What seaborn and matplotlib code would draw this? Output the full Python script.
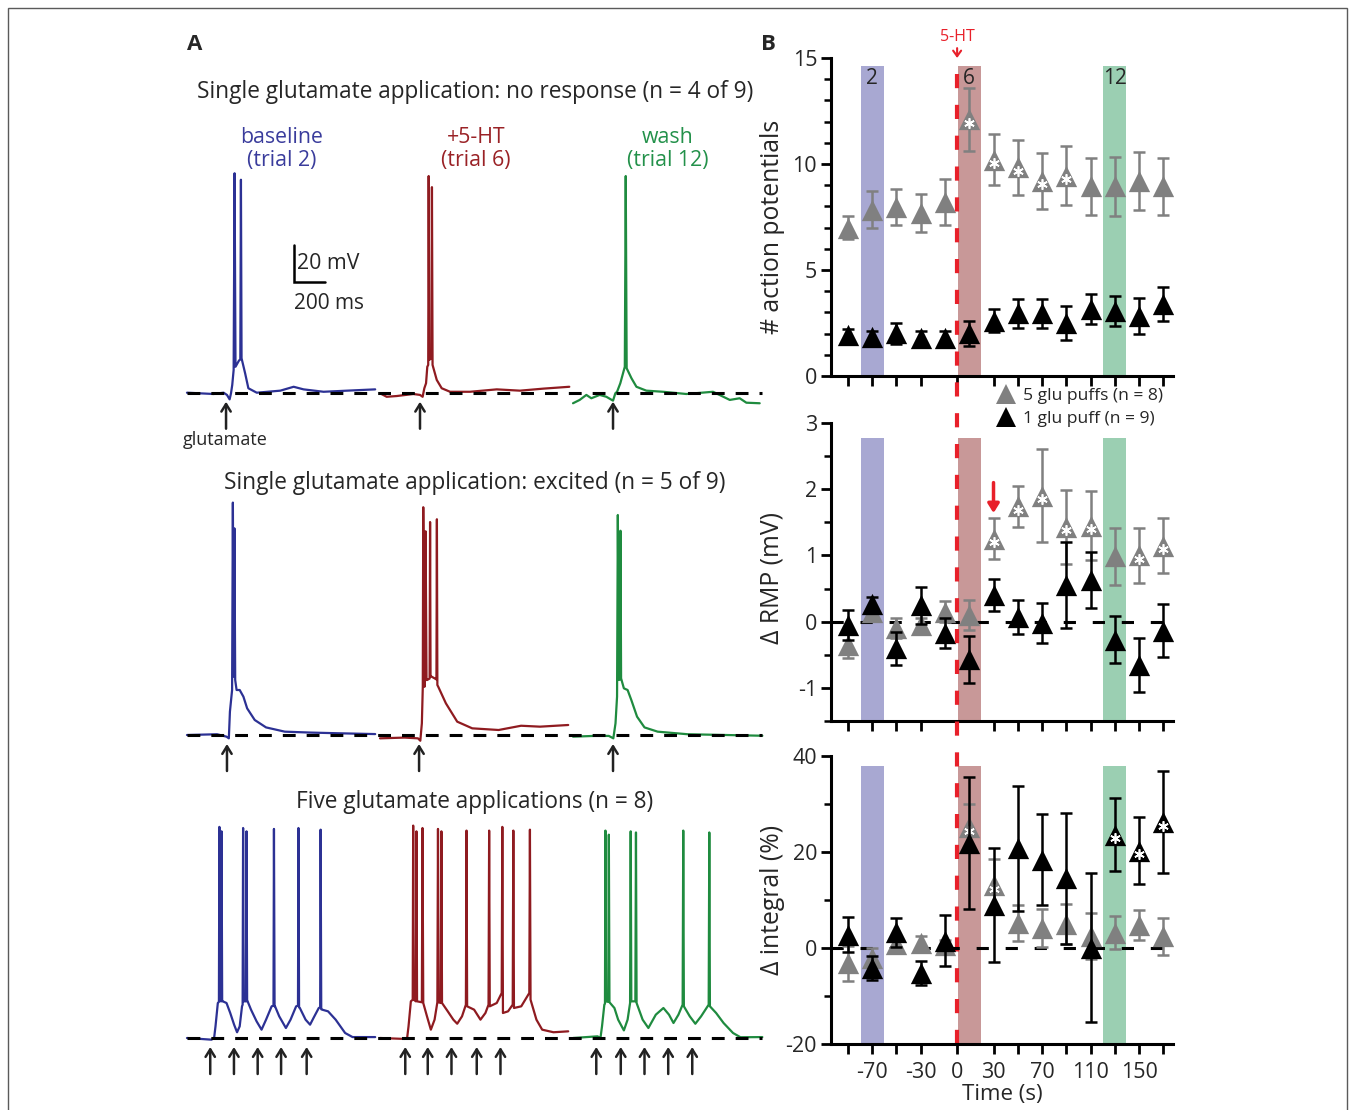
import numpy as np
import seaborn as sns
import matplotlib.pyplot as plt
from matplotlib import transforms
from matplotlib.lines import Line2D
from matplotlib.patches import Rectangle

# ---------------- panel B data ----------------
time_s = [-90, -70, -50, -30, -10, 10, 30, 50, 70, 90, 110, 130, 150, 170]

ap_five = [7.0, 7.85, 7.95, 7.7, 8.2, 12.1, 10.2, 9.85, 9.2, 9.45, 8.95, 8.95, 9.2, 8.95]
ap_five_err = [0.55, 0.88, 0.85, 0.9, 1.1, 1.5, 1.2, 1.3, 1.3, 1.4, 1.35, 1.4, 1.35, 1.35]
ap_one = [1.92, 1.84, 2.01, 1.81, 1.81, 2.01, 2.61, 2.95, 2.95, 2.52, 3.17, 3.07, 2.85, 3.4]
ap_one_err = [0.3, 0.3, 0.5, 0.3, 0.3, 0.6, 0.55, 0.7, 0.7, 0.8, 0.72, 0.72, 0.85, 0.8]

rmp_five = [-0.35, 0.15, -0.1, -0.05, 0.15, 0.1, 1.25, 1.74, 1.9, 1.43, 1.45, 0.99, 1.0, 1.15]
rmp_five_err = [0.2, 0.05, 0.15, 0.1, 0.16, 0.23, 0.31, 0.31, 0.7, 0.56, 0.52, 0.43, 0.41, 0.42]
rmp_one = [-0.05, 0.27, -0.4, 0.25, -0.17, -0.57, 0.4, 0.07, -0.02, 0.55, 0.63, -0.27, -0.65, -0.14]
rmp_one_err = [0.23, 0.1, 0.25, 0.28, 0.23, 0.36, 0.24, 0.26, 0.3, 0.65, 0.42, 0.36, 0.41, 0.4]

int_five = [-3.2, -2.0, 0.8, 1.0, 0.7, 25.2, 13.1, 5.2, 4.2, 5.0, 2.5, 3.2, 4.8, 2.4]
int_five_err = [3.6, 2.0, 1.0, 1.5, 1.0, 4.8, 5.4, 3.7, 4.0, 4.2, 4.7, 3.5, 3.2, 3.8]
int_one = [2.8, -4.1, 3.3, -5.3, 1.5, 21.9, 9.0, 20.8, 18.4, 14.5, 0.1, 23.6, 20.3, 26.2]
int_one_err = [3.7, 2.5, 3.0, 2.5, 5.3, 13.8, 11.9, 13.0, 9.5, 13.7, 15.6, 7.6, 7.0, 10.6]

# time points marked with an asterisk
ap_five_sig = [10, 30, 50, 70, 90]
rmp_five_sig = [30, 50, 70, 90, 110, 150, 170]
int_five_sig = [10, 30]
int_one_sig = [130, 150, 170]

band_trials = ['2', '6', '12']
band_times = [-70, 10, 130]

x_ticks = [-90, -70, -50, -30, 0, 30, 50, 70, 90, 110, 130, 150, 170]
x_ticklabels = ['', '-70', '', '-30', '0', '30', '', '70', '', '110', '', '150', '']

# ---------------- panel A data: traces as (ms, mV) vertices ----------------
r1_blue = [(0, 0), (172, -0.7), (236, 0), (258, -1.2), (275, -3.6), (284, -0.3), (292, 4.2),
           (301, 12.3), (307, 118.5), (313, 14), (335, 17.3), (344, 18), (348, 115), (352, 18.6),
           (375, 10.5), (396, 2.4), (450, 0), (602, 1.1), (688, 3.2), (752, 1.8), (881, 0.5),
           (1032, 1.1), (1214, 1.8)]
r1_red = [(0, -0.3), (43, -2.2), (108, -1.8), (215, -0.7), (258, -1.2), (275, -2.2), (286, 2.4),
          (297, 5.1), (305, 14), (311, 15), (314, 117), (318, 17.7), (329, 18.6), (332, 18.6),
          (335, 111), (339, 15), (366, 6.9), (398, 2.4), (452, 0.5), (581, 0.5), (753, 1.8),
          (903, 1.1), (1054, 2.2), (1221, 3.2)]
r1_green = [(0, -5.7), (43, -3.9), (86, -1.2), (118, -3.0), (172, -1.2), (215, -2.2), (258, -4.3),
            (273, -0.3), (284, 0.5), (305, 5.1), (334, 14), (340, 117), (346, 13.2), (377, 7.8),
            (409, 3.2), (473, 1.1), (581, 0.5), (731, -0.7), (903, 0.5), (1011, -3.9),
            (1075, -3.0), (1118, -5.4), (1204, -5.7)]

r2_blue = [(0, 0), (194, 0.4), (255, -0.9), (270, -1.8), (277, 12.6), (291, 24.3), (296, 125.5),
           (301, 31.5), (306, 111.6), (311, 29.7), (320, 24.3), (340, 24.3), (364, 20.7),
           (388, 14.4), (437, 8.1), (510, 4.1), (631, 1.8), (801, 1.3), (995, 0.9), (1214, 0.5)]
r2_red = [(0, -1.8), (158, -1.4), (245, -1.8), (260, -3.1), (270, 6.3), (276, 26), (279, 123),
          (287, 26), (294, 110), (300, 29.7), (304, 29.7), (320, 30.5), (323, 115), (326, 31.5),
          (333, 31.5), (352, 30.6), (364, 30), (367, 116.5), (370, 27), (376, 26), (425, 17.1),
          (498, 7.2), (595, 3.6), (765, 2.7), (910, 5.0), (1032, 4.5), (1214, 5.4)]
r2_green = [(0, -0.9), (134, -0.5), (231, -0.5), (260, -1.8), (274, 6.3), (284, 20.7), (289, 118.8),
            (296, 29.7), (303, 30), (306, 110.3), (310, 30.6), (328, 25.2), (352, 24.3),
            (376, 18.9), (413, 9.9), (461, 4.1), (546, 1.8), (740, 0.4), (983, 0), (1221, -0.4)]

r3_blue = [(0, 0), (158, -0.9), (175, 0), (184, 6.3), (199, 18.9), (206, 19.5), (209, 114),
           (213, 20), (219, 19.8), (223, 111.6), (227, 19.8), (231, 19.8), (255, 18.9), (279, 13.5),
           (304, 7.2), (323, 3.1), (340, 6.3), (355, 17.1), (359, 18), (362, 113.4), (366, 19.8),
           (380, 19.8), (384, 111.6), (388, 19.8), (391, 19.8), (413, 15.3), (449, 9), (481, 4.5),
           (510, 9.9), (546, 17.1), (558, 17.5), (561, 112.9), (565, 17.1), (568, 17.1),
           (595, 11.7), (638, 5.4), (668, 9.9), (704, 17.1), (716, 17.5), (719, 113.4),
           (723, 16.5), (728, 16.2), (765, 9.9), (794, 7.2), (816, 10.8), (850, 16.2),
           (859, 16.5), (862, 112.5), (866, 15.5), (872, 15.3), (910, 14.4), (959, 9.9),
           (1020, 2.7), (1068, 0.5), (1214, 0.5)]
r3_red = [(0, 0), (158, -0.5), (175, 0), (184, 6.3), (199, 19.8), (211, 20.7), (214, 114.7),
          (218, 20.7), (231, 19.8), (235, 111.6), (239, 19.8), (270, 19.3), (274, 113.4),
          (279, 18.9), (303, 11.7), (328, 4.5), (352, 9.9), (370, 19.3), (374, 112.9), (378, 19.3),
          (392, 18.9), (396, 111.6), (400, 18.9), (437, 14.4), (473, 9.9), (498, 7.7), (529, 11.7),
          (554, 18), (558, 112), (562, 17.1), (607, 15.3), (648, 9.9), (680, 13.5), (700, 18),
          (704, 112), (708, 17.1), (753, 18.9), (785, 24.3), (789, 114), (793, 13.5), (826, 14.4),
          (856, 18), (860, 112), (864, 16.2), (911, 17.1), (963, 24.3), (967, 112.5), (971, 20.7),
          (1009, 9.9), (1046, 4.5), (1119, 3.1), (1214, 3.6)]
r3_green = [(0, 0), (158, 0.9), (177, 0), (187, 6.3), (202, 18), (206, 18.5), (209, 112),
            (213, 19.8), (227, 19.5), (231, 109.8), (235, 19.3), (267, 16.2), (291, 9.9),
            (328, 4.1), (352, 9.9), (368, 18.9), (372, 111.6), (376, 19.8), (402, 19.8),
            (406, 111), (410, 18.9), (449, 9.9), (486, 5.4), (534, 12.6), (583, 16.2),
            (619, 12.6), (648, 8.1), (680, 12.6), (707, 18), (711, 112), (715, 17.1), (753, 11.7),
            (789, 7.7), (826, 11.7), (875, 18), (879, 111), (883, 17.1), (923, 13.5), (971, 8.1),
            (1032, 2.7), (1080, 0.4), (1221, 0.5)]

# glutamate puff times (ms from trace start)
r1_puffs = [[252], [258], [258]]
r2_puffs = [[258], [252], [258]]
r3_puffs = [[150, 303, 456, 607, 772], [163, 308, 461, 624, 777], [150, 308, 461, 614, 769]]

row_titles = ['Single glutamate application: no response (n = 4 of 9)',
              'Single glutamate application: excited (n = 5 of 9)',
              'Five glutamate applications (n = 8)']
col_labels = ['baseline\n(trial 2)', '+5-HT\n(trial 6)', 'wash\n(trial 12)']

# ---------------- style ----------------
sns.set_theme(style='ticks')
plt.rcParams['font.family'] = ['Open Sans', 'DejaVu Sans']
plt.rcParams['axes.unicode_minus'] = False

W, H = 1350, 1110
fig = plt.figure(figsize=(W / 100, H / 100), dpi=100)


def fx(px):
    return px / W


def fy(py):
    return 1 - py / H


trace_colors = ['#2c3194', '#8f1b20', '#1f8b3f']
label_colors = ['#3a3c9c', '#9a2226', '#23914a']
band_colors = ['#a8a8d2', '#c89898', '#9bcfb2']
red = '#e8202a'
gray = '#808080'

# ---------------- panel A ----------------
MS_PER_PX = 6.45
MV_PER_PX = 0.54
col_start_ms = [45, 1290, 2535]
row_base_px = [392.7, 735, 1038]
row_title_px = [92, 483, 802]
rows = [([r1_blue, r1_red, r1_green], r1_puffs),
        ([r2_blue, r2_red, r2_green], r2_puffs),
        ([r3_blue, r3_red, r3_green], r3_puffs)]

for r, (traces, puffs) in enumerate(rows):
    base = row_base_px[r]
    ax = fig.add_axes([fx(180), fy(base + 42), 590 / W, 290 / H])
    ax.set_xlim(0, 590 * MS_PER_PX)
    ax.set_ylim(-42 * MV_PER_PX, 248 * MV_PER_PX)
    ax.axis('off')
    for c, (tr, pf) in enumerate(zip(traces, puffs)):
        t, v = np.array(tr).T
        sns.lineplot(x=t + col_start_ms[c], y=v, ax=ax, color=trace_colors[c], lw=1.6,
                     estimator=None, sort=False, legend=False, zorder=2)
        for p in pf:
            ax.annotate('', xy=(p + col_start_ms[c], -9 * MV_PER_PX),
                        xytext=(p + col_start_ms[c], -36 * MV_PER_PX),
                        arrowprops=dict(arrowstyle='->,head_length=0.45,head_width=0.28',
                                        lw=1.8, color='#222222', shrinkA=0, shrinkB=0))
    ax.plot([col_start_ms[0], col_start_ms[0] + 575 * MS_PER_PX], [0, 0], color='black',
            lw=2.2, ls=(0, (4.2, 3.6)), zorder=3)
    fig.text(fx(475), fy(row_title_px[r]), row_titles[r], ha='center', va='center', fontsize=16.3)
    if r == 0:
        # scale bar
        sx, sy = (294 - 180) * MS_PER_PX, (base - 282) * MV_PER_PX
        ax.plot([sx, sx, sx + 200], [sy + 20, sy, sy], color='black', lw=1.8,
                solid_joinstyle='miter')
        ax.text(sx + 20, sy + 10, '20 mV', ha='left', va='center', fontsize=15.3)
        ax.text(sx, sy - 6, '200 ms', ha='left', va='top', fontsize=15)

for c, (xc, lab) in enumerate(zip([282, 476, 668], col_labels)):
    fig.text(fx(xc), fy(149), lab, ha='center', va='center', fontsize=15.3,
             color=label_colors[c], linespacing=1.12)
fig.text(fx(225), fy(440), 'glutamate', ha='center', va='center', fontsize=13)

# ---------------- panel B ----------------
bl, bw = fx(831), (1173 - 831) / W
ax1 = fig.add_axes([bl, fy(376), bw, (376 - 58) / H])
ax2 = fig.add_axes([bl, fy(721), bw, (721 - 423) / H])
ax3 = fig.add_axes([bl, fy(1044), bw, (1044 - 756) / H])
axes_b = [ax1, ax2, ax3]

ylims = [(0, 15), (-1.5, 3), (-20, 40)]
band_tops = [14.62, 2.77, 37.9]
yticks = [[0, 5, 10, 15], [-1, 0, 1, 2, 3], [-20, 0, 20, 40]]
yminor = [np.arange(0, 16, 1), np.arange(-1.5, 3.01, 0.5), [-10, 10, 30]]
ylabels = ['# action potentials', 'Δ RMP (mV)', 'Δ integral (%)']
ylabel_y = [0.47, 0.48, 0.5]
series = [(ap_five, ap_five_err, ap_five_sig, ap_one, ap_one_err, []),
          (rmp_five, rmp_five_err, rmp_five_sig, rmp_one, rmp_one_err, []),
          (int_five, int_five_err, int_five_sig, int_one, int_one_err, int_one_sig)]

star_shift = transforms.ScaledTranslation(0, -2.5 / 72, fig.dpi_scale_trans)


def draw_group(ax, vals, errs, sig, color, z):
    ax.errorbar(time_s, vals, yerr=errs, fmt='none', ecolor=color, elinewidth=1.8,
                capsize=4.5, capthick=1.8, zorder=z)
    sns.scatterplot(x=time_s, y=vals, marker='^', s=235, color=color, linewidth=0,
                    ax=ax, zorder=z + 0.5, legend=False)
    if sig:
        sy = [vals[time_s.index(t)] for t in sig]
        ax.plot(sig, sy, ls='none', marker=(6, 2, 0), ms=7.5, mew=1.2, color='white',
                zorder=z + 0.7, transform=ax.transData + star_shift)


for i, ax in enumerate(axes_b):
    y0, y1 = ylims[i]
    ax.set_xlim(-104, 178)
    ax.set_ylim(y0, y1)
    for t, c in zip(band_times, band_colors):
        ax.axvspan(t - 9.5, t + 9.5, ymin=0, ymax=(band_tops[i] - y0) / (y1 - y0),
                   color=c, lw=0, zorder=1)
    if i > 0:
        ax.axhline(0, color='black', lw=2.2, ls=(0, (4.0, 5.5)), zorder=2.5)
    f, fe, fs, o, oe, os_ = series[i]
    draw_group(ax, f, fe, fs, gray, 3)
    draw_group(ax, o, oe, os_, 'black', 5)

    ax.set_xticks(x_ticks)
    ax.set_xticklabels(x_ticklabels if i == 2 else [''] * len(x_ticks))
    ax.set_yticks(yticks[i])
    ax.set_yticklabels([str(v) for v in yticks[i]])
    ax.set_yticks(yminor[i], minor=True)
    ax.tick_params(which='major', length=7, width=2, labelsize=15.5, pad=3, color='black')
    ax.tick_params(axis='x', pad=6)
    ax.tick_params(which='minor', length=5, width=1.8, color='black')
    sns.despine(ax=ax)
    for s in ['left', 'bottom']:
        ax.spines[s].set_linewidth(2.2)
        ax.spines[s].set_color('black')
    ax.set_ylabel(ylabels[i], fontsize=17.8)
    ax.yaxis.set_label_coords(-0.135, ylabel_y[i])
    ax.set_facecolor('none')

for t, lab in zip(band_times, band_trials):
    ax1.text(t, 14.05, lab, ha='center', va='center', fontsize=15)

ax3.set_xlabel('Time (s)', fontsize=16, labelpad=1)

# serotonin onset: dashed red line through the three panels
p3 = ax3.get_position()
ax3.axvline(0, ymin=0, ymax=(fy(61) - p3.y0) / p3.height, color=red, lw=3,
            ls=(0, (3.4, 4.0)), clip_on=False, zorder=2)
ax1.annotate('5-HT', xy=(0, 15.0), xytext=(0, 15.62), ha='center', va='bottom', color=red,
             fontsize=11.5, annotation_clip=False,
             arrowprops=dict(arrowstyle='->,head_length=0.35,head_width=0.25', color=red, lw=1.5,
                             shrinkA=0, shrinkB=0))
ax2.annotate('', xy=(30, 1.64), xytext=(30, 2.1), annotation_clip=False,
             arrowprops=dict(arrowstyle='-|>,head_length=0.45,head_width=0.28', color=red, lw=2.5,
                             shrinkA=0, shrinkB=0))

handles = [Line2D([], [], ls='none', marker='^', ms=15, color=gray, mew=0),
           Line2D([], [], ls='none', marker='^', ms=15, color='black', mew=0)]
fig.legend(handles, ['5 glu puffs (n = 8)', '1 glu puff (n = 9)'], loc='upper left',
           bbox_to_anchor=(fx(998), fy(388)), frameon=False, fontsize=12.6, handlelength=0.9,
           handletextpad=0.55, labelspacing=0.35, borderpad=0, borderaxespad=0)

# panel letters and frame
fig.text(fx(195), fy(45), 'A', fontsize=16, weight='bold', ha='center', va='center')
fig.text(fx(768), fy(45), 'B', fontsize=16, weight='bold', ha='center', va='center')
fig.add_artist(Rectangle((fx(8), -0.1), fx(1347) - fx(8), fy(8) + 0.1, transform=fig.transFigure,
                         fill=False, edgecolor='#5a5a5a', lw=1.0))

fig.savefig('out.png', dpi=100)
